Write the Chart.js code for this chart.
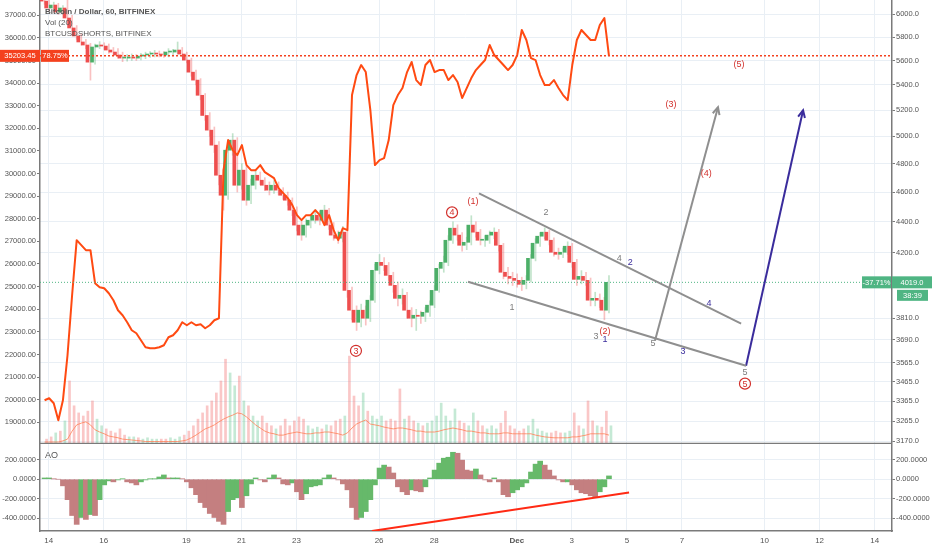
<!DOCTYPE html>
<html>
<head>
<meta charset="utf-8">
<script src="https://cdn.jsdelivr.net/npm/chart.js@4.4.1/dist/chart.umd.min.js"></script>
<style>
  body { margin: 0; background: #fff; }
  #wrap { position: relative; width: 932px; height: 550px; }
  #priceChart { position: absolute; left: 0; top: 0; }
  #aoChart { position: absolute; left: 0; top: 444px; }
</style>
</head>
<body>
<div id="wrap">
  <canvas id="priceChart" width="932" height="444"></canvas>
  <canvas id="aoChart" width="932" height="106"></canvas>
</div>
<script>
// time axis in days since Nov 1 (Nov 14 = 14, Dec 1 = 31)
const dayTicks = [14, 16, 19, 21, 23, 26, 28, 31, 33, 35, 37, 40, 42, 44];
const dayLabels = ["14", "16", "19", "21", "23", "26", "28", "Dec", "3", "5", "7", "10", "12", "14"];
const xMin = 13.684, xMax = 44.63;
const firstCandleDay = 13.85;
const candleHours = 4;
const firstOpen = 6150;

// BTC/USD 4h candles
const closes = [
  6120, 6057, 6084, 6021, 6057, 5967, 5879, 5809, 5757, 5731,
  5586, 5714, 5731, 5722, 5688, 5671, 5646, 5620, 5620, 5629,
  5620, 5637, 5646, 5654, 5662, 5654, 5646, 5671, 5671, 5688,
  5654, 5603, 5503, 5438, 5316, 5158, 5046, 4934, 4717, 4578,
  4897, 4971, 4647, 4753, 4544, 4647, 4717, 4682, 4647, 4613,
  4647, 4613, 4578, 4544, 4477, 4378, 4313, 4378, 4410, 4443,
  4410, 4477, 4378, 4313, 4293, 4332, 3971, 3855, 3786, 3855,
  3809, 3913, 4092, 4141, 4122, 4061, 4001, 3924, 3942, 3855,
  3809, 3826, 3820, 3843, 3884, 3971, 4104, 4141, 4280, 4358,
  4313, 4248, 4267, 4378, 4332, 4280, 4280, 4313, 4332, 4248,
  4080, 4055, 4043, 4031, 4007, 4031, 4166, 4261, 4306, 4332,
  4280, 4204, 4191, 4204, 4242, 4141, 4037, 4055, 4031, 3913,
  3924, 3913, 3855, 4019
];
const highs = [
  6180, 6140, 6110, 6100, 6080, 6130, 5990, 5900, 5830, 5780,
  5745, 5740, 5760, 5750, 5740, 5710, 5700, 5670, 5650, 5655,
  5650, 5660, 5670, 5675, 5685, 5680, 5675, 5700, 5695, 5757,
  5710, 5670, 5620, 5520, 5450, 5330, 5180, 5070, 4960, 4760,
  4950, 5020, 4990, 4800, 4780, 4690, 4760, 4740, 4700, 4670,
  4680, 4670, 4630, 4600, 4560, 4500, 4400, 4420, 4440, 4480,
  4470, 4510, 4490, 4395, 4340, 4370, 4345, 3990, 3880, 3890,
  3880, 3940, 4130, 4190, 4170, 4140, 4080, 4020, 3980, 3960,
  3870, 3860, 3850, 3870, 3910, 4000, 4130, 4180, 4310, 4400,
  4380, 4330, 4300, 4440, 4400, 4350, 4310, 4340, 4360, 4350,
  4260, 4110, 4080, 4070, 4050, 4060, 4190, 4290, 4330, 4360,
  4345, 4295, 4230, 4230, 4270, 4260, 4160, 4090, 4080, 4045,
  3960, 3950, 3930, 4060
];
const lows = [
  6090, 6030, 6040, 6000, 6000, 5940, 5850, 5780, 5730, 5700,
  5438, 5570, 5700, 5690, 5660, 5640, 5620, 5590, 5595, 5600,
  5600, 5605, 5615, 5625, 5630, 5630, 5625, 5630, 5645, 5655,
  5630, 5580, 5470, 5400, 5280, 5120, 5000, 4880, 4650, 4477,
  4550, 4860, 4600, 4620, 4510, 4520, 4620, 4650, 4610, 4580,
  4590, 4580, 4550, 4510, 4440, 4340, 4280, 4300, 4360, 4390,
  4380, 4395, 4350, 4280, 4260, 4270, 3930, 3800, 3740, 3760,
  3770, 3790, 3900, 4070, 4090, 4030, 3960, 3880, 3890, 3810,
  3760, 3740, 3780, 3790, 3820, 3870, 3960, 4080, 4120, 4260,
  4280, 4210, 4220, 4250, 4300, 4250, 4240, 4260, 4290, 4210,
  4040, 4010, 4000, 3990, 3970, 3980, 4020, 4150, 4240, 4290,
  4250, 4180, 4160, 4170, 4190, 4110, 4000, 4010, 4000, 3880,
  3880, 3870, 3800, 3840
];
const volumes = [
  1.1, 1.6, 2.5, 2.9, 5.2, 14.2, 8.6, 7.0, 6.3, 7.4,
  9.7, 5.6, 4.1, 3.4, 2.9, 2.5, 3.4, 2.0, 1.6, 1.6,
  1.4, 1.1, 1.4, 1.1, 1.1, 1.1, 1.1, 1.4, 1.1, 1.6,
  2.0, 2.9, 4.1, 5.6, 7.0, 8.6, 9.7, 11.5, 14.2, 19.1,
  16.0, 13.1, 15.3, 9.7, 8.6, 6.3, 5.2, 6.3, 4.7, 4.1,
  3.4, 4.1, 5.6, 4.1, 5.2, 6.1, 5.6, 4.1, 3.4, 3.8,
  3.4, 4.3, 4.1, 5.2, 5.6, 6.3, 19.8, 10.8, 8.6, 11.5,
  7.4, 6.3, 5.6, 6.3, 5.2, 5.6, 5.2, 12.4, 5.6, 6.3,
  5.2, 4.7, 4.1, 4.7, 5.2, 6.3, 9.2, 6.3, 5.2, 7.9,
  5.2, 4.7, 4.1, 7.0, 5.2, 4.1, 3.4, 4.1, 3.4, 4.7,
  7.4, 4.1, 3.4, 2.9, 3.4, 4.1, 5.6, 3.4, 2.9, 2.5,
  2.5, 2.9, 2.5, 2.5, 2.9, 7.0, 4.1, 3.4, 9.7, 5.2,
  4.1, 3.8, 7.4, 4.1
];
const volumeMA = [
  0.45, 0.45, 0.45, 0.45, 0.7, 1.1, 2.9, 4.3, 4.7, 5.0,
  4.3, 3.2, 2.7, 2.3, 1.8, 1.6, 1.4, 1.1, 1.0, 0.9,
  0.8, 0.7, 0.56, 0.56, 0.56, 0.56, 0.56, 0.56, 0.56, 0.56,
  0.7, 0.9, 1.4, 2.0, 2.7, 3.4, 3.8, 4.3, 5.0, 5.6,
  6.1, 6.5, 7.0, 6.8, 6.1, 5.2, 4.3, 3.6, 2.9, 2.5,
  2.3, 2.0, 2.0, 2.3, 2.5, 2.7, 2.5, 2.3, 2.3, 2.5,
  2.5, 2.7, 2.7, 2.5, 2.3, 2.0, 2.5, 3.6, 4.5, 5.0,
  5.4, 4.5, 4.3, 4.1, 3.8, 3.6, 3.4, 3.6, 3.6, 3.4,
  3.2, 2.9, 2.9, 2.7, 2.7, 2.7, 2.9, 3.2, 3.4, 3.6,
  3.4, 3.2, 2.9, 2.9, 2.7, 2.5, 2.5, 2.3, 2.3, 2.3,
  2.5, 2.5, 2.3, 2.3, 2.3, 2.3, 2.3, 2.0, 1.8, 1.6,
  1.5, 1.4, 1.4, 1.4, 1.4, 1.6, 1.6, 1.8, 2.0, 2.3,
  2.3, 2.3, 2.3, 2.0
];
// BTCUSDSHORTS, BITFINEX (left scale)
const shorts = [
  19973, 20062, 19840, 19088, 19973, 21964, 24619, 27053, 26832, 26610,
  26610, 25150, 24973, 24929, 24708, 24398, 23956, 23735, 23424, 23071,
  22938, 22628, 22318, 22274, 22274, 22318, 22407, 22761, 22849, 23071,
  23424, 23292, 23424, 23292, 23336, 23159, 23292, 23513, 23600, 30150,
  31478, 31035, 30814, 31257, 30372, 30150, 30150, 30372, 30062, 29929,
  29797, 29354, 29133, 28911, 28601, 28159, 27938, 28159, 28159, 28381,
  28159, 27716, 28159, 27496, 27053, 27584, 27496, 33469, 34354, 34797,
  34487, 32806, 30372, 30593, 30682, 31478, 33027, 33469, 33779, 34487,
  34930, 34133, 33912, 34797, 35018, 34487, 34575, 34575, 34133, 34354,
  34045, 33337, 33779, 34221, 34575, 34797, 35018, 35682, 35239, 35018,
  34797, 34575, 34797, 35239, 36346, 35903, 35106, 35018, 34354, 33912,
  33912, 34133, 33779, 33469, 33248, 34797, 35903, 36346, 36124, 35903,
  35903, 36567, 36877, 35203
];
// Awesome Oscillator
const aoValues = [
  13, 13, 3, 0, -68, -210, -373, -464, -393, -413,
  -363, -373, -210, -58, -17, -27, -7, 3, -27, -38,
  -58, -27, -7, 3, 3, 23, 44, 13, 13, 13,
  3, -27, -88, -159, -240, -291, -352, -393, -433, -464,
  -332, -210, -190, -291, -170, -48, 13, -7, -27, 13,
  44, 13, -48, -58, -38, -129, -210, -149, -78, -68,
  -58, 13, 44, 13, -7, -48, -109, -291, -413, -393,
  -332, -210, -58, 115, 145, 125, 64, -78, -129, -159,
  -109, -119, -129, -78, 13, 94, 165, 216, 226, 277,
  267, 196, 94, 84, 105, 44, -7, -27, 13, -27,
  -159, -180, -139, -109, -78, -38, 74, 155, 186, 145,
  94, 34, -7, -27, -27, -58, -109, -139, -149, -170,
  -180, -129, -78, 34
];

const shortsTicks = [19000, 20000, 21000, 22000, 23000, 24000, 25000, 26000, 27000, 28000,
  29000, 30000, 31000, 32000, 33000, 34000, 35000, 36000, 37000];
const priceTicks = [6000, 5800, 5600, 5400, 5200, 5000, 4800, 4600, 4400, 4200,
  3810, 3690, 3565, 3465, 3365, 3265, 3170];
const aoTicks = [-400, -200, 0, 200];

const lastShorts = 35203.45, shortsChange = "78.75%";
const lastPrice = 4019.0, priceChange = "-37.71%", countdown = "38:39";

// drawings (day, price)
const wedgeUpper = [{ x: 29.63, y: 4591 }, { x: 39.15, y: 3778 }];
const wedgeLower = [{ x: 29.23, y: 4023 }, { x: 39.33, y: 3548 }];
const greyArrow = [{ x: 36.02, y: 3683 }, { x: 38.31, y: 5222 }];
const navyArrow = [{ x: 39.33, y: 3548 }, { x: 41.40, y: 5198 }];
const aoTrend = [{ x: 25.74, y: -532 }, { x: 35.08, y: -136 }];
const redWaves = [["(1)", 29.41, 4536], ["(2)", 34.21, 3733], ["(3)", 36.60, 5246],
  ["(4)", 37.88, 4731], ["(5)", 39.07, 5569]];
const circledWaves = [["4", 28.65, 4462], ["3", 25.16, 3628], ["5", 39.29, 3454]];
const greyWaves = [["1", 30.83, 3870], ["2", 32.06, 4462], ["3", 33.88, 3705],
  ["4", 34.72, 4165], ["5", 35.95, 3666], ["5", 39.29, 3510]];
const navyWaves = [["1", 34.21, 3689], ["2", 35.12, 4140], ["3", 37.04, 3622], ["4", 37.98, 3894]];

const FONT = "'Liberation Sans', Arial, sans-serif";
const GRID = "#e9eff5";
const AXIS = "#7a7a7a";
const TXT = "#555555";
const UP = "#4caf68", DOWN = "#ee4e4e";
const WAVE_RED = "#d2302c", WAVE_GREY = "#7d7d7d", NAVY = "#3a2c9c";
const TICK_FONT = { family: FONT, size: 7.5 };

const xs = closes.map((c, i) => firstCandleDay + i * candleHours / 24);
const opens = closes.map((c, i) => i === 0 ? firstOpen : closes[i - 1]);
const isUp = closes.map((c, i) => c >= opens[i]);

// keep chart areas flush with the panel edges
function noPad(s) {
  s.paddingTop = 0; s.paddingBottom = 0; s.paddingLeft = 0; s.paddingRight = 0;
}

function xAxis(showLabels) {
  return {
    type: "linear", min: xMin, max: xMax, offset: false,
    afterBuildTicks: s => { s.ticks = dayTicks.map(v => ({ value: v })); },
    afterFit: s => { s.height = showLabels ? 19 : 0; noPad(s); },
    grid: { color: GRID, drawTicks: false, offset: false },
    border: { display: showLabels, color: AXIS, width: 1.5 },
    ticks: {
      display: showLabels, autoSkip: false, maxRotation: 0, padding: 5, color: TXT,
      font: c => ({ family: FONT, size: 8, weight: c.tick && c.tick.value === 31 ? "bold" : "normal" }),
      callback: (v, i) => dayLabels[i]
    }
  };
}

function yAxis(position, ticks, grid, fmt, extra) {
  return Object.assign({
    position,
    afterBuildTicks: s => { s.ticks = ticks.map(v => ({ value: v })); },
    afterFit: s => { s.width = 40; noPad(s); },
    grid: { color: GRID, drawOnChartArea: grid, tickLength: 3, tickColor: AXIS },
    border: { color: AXIS, width: 1.5 },
    ticks: { autoSkip: false, padding: 1, color: TXT, font: TICK_FONT, callback: fmt }
  }, extra);
}

function tag(ctx, x, y, w, h, bg, text) {
  ctx.fillStyle = bg;
  ctx.fillRect(x, y - h / 2, w, h);
  ctx.fillStyle = "#fff";
  ctx.textAlign = "center";
  ctx.textBaseline = "middle";
  ctx.fillText(text, x + w / 2, y + 0.5);
}

function arrowHead(ctx, xs, ys, pts, color) {
  const a = pts[pts.length - 2], b = pts[pts.length - 1];
  const x1 = xs.getPixelForValue(a.x), y1 = ys.getPixelForValue(a.y);
  const x2 = xs.getPixelForValue(b.x), y2 = ys.getPixelForValue(b.y);
  const ang = Math.atan2(y2 - y1, x2 - x1);
  ctx.strokeStyle = color;
  ctx.lineWidth = 2;
  ctx.beginPath();
  ctx.moveTo(x2 - 8 * Math.cos(ang - 0.45), y2 - 8 * Math.sin(ang - 0.45));
  ctx.lineTo(x2, y2);
  ctx.lineTo(x2 - 8 * Math.cos(ang + 0.45), y2 - 8 * Math.sin(ang + 0.45));
  ctx.stroke();
}

const waveMarks = {
  id: "waveMarks",
  afterDatasetsDraw(chart) {
    const { ctx, scales: { x, yR } } = chart;
    ctx.save();
    arrowHead(ctx, x, yR, greyArrow, "#8f8f8f");
    arrowHead(ctx, x, yR, navyArrow, NAVY);
    ctx.textAlign = "center";
    ctx.textBaseline = "middle";
    ctx.font = `9px ${FONT}`;
    redWaves.forEach(([t, d, p]) => {
      ctx.fillStyle = WAVE_RED;
      ctx.fillText(t, x.getPixelForValue(d), yR.getPixelForValue(p));
    });
    circledWaves.forEach(([t, d, p]) => {
      const px = x.getPixelForValue(d), py = yR.getPixelForValue(p);
      ctx.fillStyle = "#fff";
      ctx.beginPath(); ctx.arc(px, py, 5.5, 0, Math.PI * 2); ctx.fill();
      ctx.strokeStyle = WAVE_RED; ctx.lineWidth = 1.2; ctx.stroke();
      ctx.fillStyle = WAVE_RED;
      ctx.fillText(t, px, py + 0.5);
    });
    greyWaves.forEach(([t, d, p]) => {
      ctx.fillStyle = WAVE_GREY;
      ctx.fillText(t, x.getPixelForValue(d), yR.getPixelForValue(p));
    });
    navyWaves.forEach(([t, d, p]) => {
      ctx.fillStyle = NAVY;
      ctx.fillText(t, x.getPixelForValue(d), yR.getPixelForValue(p));
    });
    ctx.restore();
  },
  afterDraw(chart) {
    const { ctx, scales: { yL, yR }, chartArea } = chart;
    ctx.save();
    // panel separator
    ctx.strokeStyle = AXIS; ctx.lineWidth = 1.5;
    ctx.beginPath(); ctx.moveTo(chartArea.left, chartArea.bottom - 0.5); ctx.lineTo(chartArea.right, chartArea.bottom - 0.5); ctx.stroke();
    // legend
    ctx.textAlign = "left"; ctx.textBaseline = "middle"; ctx.fillStyle = TXT;
    ctx.font = `bold 8px ${FONT}`;
    ctx.fillText("Bitcoin / Dollar, 60, BITFINEX", 45, 12);
    ctx.font = `8px ${FONT}`;
    ctx.fillText("Vol (20)", 45, 23);
    ctx.fillText("BTCUSDSHORTS, BITFINEX", 45, 34);
    // price tags
    ctx.font = `7.5px ${FONT}`;
    const ys = yL.getPixelForValue(lastShorts);
    tag(ctx, 0, ys, 40, 12, "#f4411e", lastShorts.toFixed(2));
    tag(ctx, 41, ys, 28, 12, "#f4411e", shortsChange);
    const yp = yR.getPixelForValue(lastPrice);
    tag(ctx, 862, yp, 29, 12, "#4fb583", priceChange);
    tag(ctx, 892, yp, 40, 12, "#4fb583", lastPrice.toFixed(1));
    tag(ctx, 897, yp + 13, 31, 11, "#4fb583", countdown);
    ctx.restore();
  }
};

new Chart(document.getElementById("priceChart"), {
  type: "line",
  data: {
    datasets: [
      { type: "line", data: wedgeUpper, yAxisID: "yR", borderColor: "#8f8f8f", borderWidth: 2, pointRadius: 0 },
      { type: "line", data: wedgeLower, yAxisID: "yR", borderColor: "#8f8f8f", borderWidth: 2, pointRadius: 0 },
      { type: "line", data: greyArrow, yAxisID: "yR", borderColor: "#8f8f8f", borderWidth: 2, pointRadius: 0 },
      { type: "line", data: navyArrow, yAxisID: "yR", borderColor: NAVY, borderWidth: 2, pointRadius: 0 },
      { type: "line", data: [{ x: xMin, y: lastShorts }, { x: xMax, y: lastShorts }], yAxisID: "yL",
        borderColor: "#f4411e", borderWidth: 1.5, borderDash: [2, 2], pointRadius: 0 },
      { type: "line", data: [{ x: xMin, y: lastPrice }, { x: xMax, y: lastPrice }], yAxisID: "yR",
        borderColor: "#4fb583", borderWidth: 1, borderDash: [1, 2], pointRadius: 0 },
      { type: "line", data: shorts.map((v, i) => ({ x: xs[i], y: v })), yAxisID: "yL",
        borderColor: "#ff4a12", borderWidth: 2, pointRadius: 0, tension: 0, borderJoinStyle: "round" },
      { type: "bar", data: closes.map((c, i) => ({ x: xs[i], y: [opens[i], c] })), yAxisID: "yR",
        backgroundColor: isUp.map(u => u ? UP : DOWN), barThickness: 3, minBarLength: 1 },
      { type: "bar", data: closes.map((c, i) => ({ x: xs[i], y: [lows[i], highs[i]] })), yAxisID: "yR",
        backgroundColor: isUp.map(u => u ? "rgba(76,175,104,0.35)" : "rgba(238,78,78,0.35)"), barThickness: 1 },
      { type: "line", data: volumeMA.map((v, i) => ({ x: xs[i], y: v })), yAxisID: "yV",
        borderColor: "rgba(255,135,95,0.85)", borderWidth: 1, pointRadius: 0 },
      { type: "bar", data: volumes.map((v, i) => ({ x: xs[i], y: v })), yAxisID: "yV",
        backgroundColor: isUp.map(u => u ? "rgba(110,200,150,0.4)" : "rgba(245,130,130,0.45)"), barThickness: 2 }
    ]
  },
  options: {
    responsive: false, animation: false,
    layout: { padding: 0 },
    plugins: { legend: { display: false }, tooltip: { enabled: false } },
    scales: {
      x: xAxis(false),
      yL: yAxis("left", shortsTicks, false, v => v.toFixed(2), { type: "linear", min: 18040, max: 37673 }),
      yR: yAxis("right", priceTicks, true, v => Number(v).toFixed(1), { type: "logarithmic", min: 3156, max: 6130 }),
      yV: { type: "linear", display: false, min: 0, max: 100 }
    }
  },
  plugins: [waveMarks]
});

const aoLabel = {
  id: "aoLabel",
  afterDraw(chart) {
    const { ctx } = chart;
    ctx.save();
    ctx.font = `9px ${FONT}`;
    ctx.fillStyle = TXT;
    ctx.textAlign = "left"; ctx.textBaseline = "middle";
    ctx.fillText("AO", 45, 12);
    ctx.restore();
  }
};

new Chart(document.getElementById("aoChart"), {
  type: "line",
  data: {
    datasets: [
      { type: "line", data: aoTrend, yAxisID: "yAR", borderColor: "#ff2a14", borderWidth: 2, pointRadius: 0 },
      { type: "bar", data: aoValues.map((v, i) => ({ x: xs[i], y: v })), yAxisID: "yAR",
        backgroundColor: aoValues.map((v, i) => (i === 0 || v >= aoValues[i - 1]) ? "#66b96a" : "#c47f80"),
        barThickness: 5 }
    ]
  },
  options: {
    responsive: false, animation: false,
    layout: { padding: 0 },
    plugins: { legend: { display: false }, tooltip: { enabled: false } },
    scales: {
      x: xAxis(true),
      yAL: yAxis("left", aoTicks, false, v => v.toFixed(4), { type: "linear", min: -532, max: 362 }),
      yAR: yAxis("right", aoTicks, true, v => v.toFixed(4), { type: "linear", min: -532, max: 362 })
    }
  },
  plugins: [aoLabel]
});
</script>
</body>
</html>
